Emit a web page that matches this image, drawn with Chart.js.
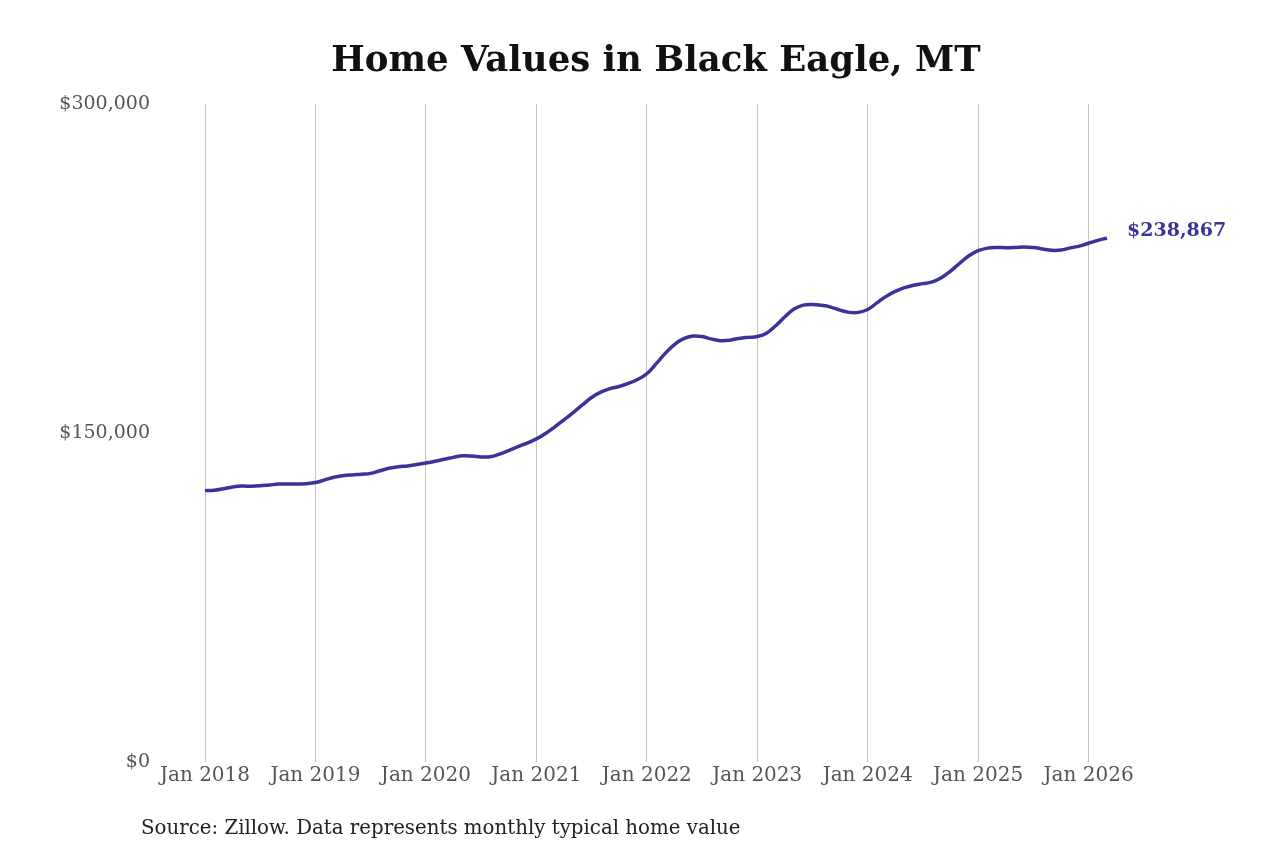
<!DOCTYPE html>
<html>
<head>
<meta charset="utf-8">
<script src="https://cdn.jsdelivr.net/npm/chart.js@4.4.1/dist/chart.umd.min.js"></script>
<style>
  html, body { margin: 0; padding: 0; background: #fff; }
  #wrap { position: relative; width: 1280px; height: 853px; }
  #source {
    position: absolute; left: 141px; top: 816px;
    font: 19.8px/24px 'DejaVu Serif', serif; color: #222;
  }
</style>
</head>
<body>
<div id="wrap">
  <canvas id="homeChart" width="1280" height="853"></canvas>
  <div id="source">Source: Zillow. Data represents monthly typical home value</div>
</div>
<script>
// DATA
const years = [2018, 2019, 2020, 2021, 2022, 2023, 2024, 2025, 2026];
const monthNames = ["Jan","Feb","Mar","Apr","May","Jun","Jul","Aug","Sep","Oct","Nov","Dec"];

// typical home value, Jan 2018 .. Mar 2026
const values2018 = [123800,123900,124600,125400,125800,125700,125900,126300,126700,126800,126700,126900];
const values2019 = [127400,128600,129800,130500,130900,131200,131600,132800,133900,134600,135000,135600];
const values2020 = [136300,137100,138000,138900,139600,139500,139100,139200,140400,142000,143800,145400];
const values2021 = [147300,149800,152800,156000,159300,162800,166200,168600,170200,171200,172600,174400];
const values2022 = [177000,181500,186300,190300,193000,194200,194000,192900,192100,192300,193100,193600];
const values2023 = [194000,195500,198900,203000,206500,208300,208600,208200,207400,206000,205000,205000];
const values2024 = [206300,209300,212300,214600,216300,217400,218100,218900,220800,223800,227400,230800];
const values2025 = [233100,234300,234600,234500,234600,234800,234600,233900,233300,233400,234400,235200];
const values2026 = [236500,237800,238867];

const homeValues = [].concat(values2018, values2019, values2020, values2021, values2022,
  values2023, values2024, values2025, values2026);

const monthLabels = [];
years.forEach(y => monthNames.forEach(m => monthLabels.push(m + " " + y)));
monthLabels.length = homeValues.length;

const yTicks = [0, 150000, 300000];

const lineColor = "#3a3399";
const serif = "'DejaVu Serif', serif";

// label at the end of the line
const endLabel = {
  id: "endLabel",
  afterDatasetsDraw(chart) {
    const meta = chart.getDatasetMeta(0);
    const last = meta.data[meta.data.length - 1];
    const v = homeValues[homeValues.length - 1];
    const c = chart.ctx;
    c.save();
    c.font = "bold 19px " + serif;
    c.fillStyle = lineColor;
    c.textAlign = "left";
    c.textBaseline = "middle";
    c.fillText("$" + v.toLocaleString("en-US"), last.x + 20, last.y - 7);
    c.restore();
  }
};

new Chart(document.getElementById("homeChart").getContext("2d"), {
  type: "line",
  data: {
    labels: monthLabels,
    datasets: [{
      data: homeValues,
      borderColor: lineColor,
      borderWidth: 3.5,
      pointRadius: 0,
      tension: 0.4,
      fill: false
    }]
  },
  options: {
    responsive: false,
    animation: false,
    layout: { padding: { left: 0, right: 173, top: 0, bottom: 63 } },
    plugins: {
      legend: { display: false },
      tooltip: { enabled: false },
      title: {
        display: true,
        text: "Home Values in Black Eagle, MT",
        fullSize: false,
        color: "#111",
        font: { family: serif, size: 35.5, weight: "bold" },
        padding: { top: 40.5, bottom: 20.9 }
      }
    },
    scales: {
      x: {
        border: { display: false },
        grid: {
          drawTicks: false,
          color: ctx => (monthLabels[ctx.index] || "").startsWith("Jan") ? "#c4c4c4" : "rgba(0,0,0,0)",
          lineWidth: 1
        },
        ticks: {
          autoSkip: false,
          maxRotation: 0,
          padding: 2,
          color: "#555",
          font: { family: serif, size: 20 },
          callback: function(val) {
            const l = monthLabels[val];
            return l.startsWith("Jan") ? l : "";
          }
        }
      },
      y: {
        min: 0,
        max: 300000,
        border: { display: false },
        grid: { display: false, drawTicks: false },
        afterFit: s => { s.width = 205; },
        afterBuildTicks: s => { s.ticks = yTicks.map(v => ({ value: v })); },
        ticks: {
          padding: 55,
          color: "#555",
          font: { family: serif, size: 19 },
          callback: v => "$" + v.toLocaleString("en-US")
        }
      }
    }
  },
  plugins: [endLabel]
});
</script>
</body>
</html>
